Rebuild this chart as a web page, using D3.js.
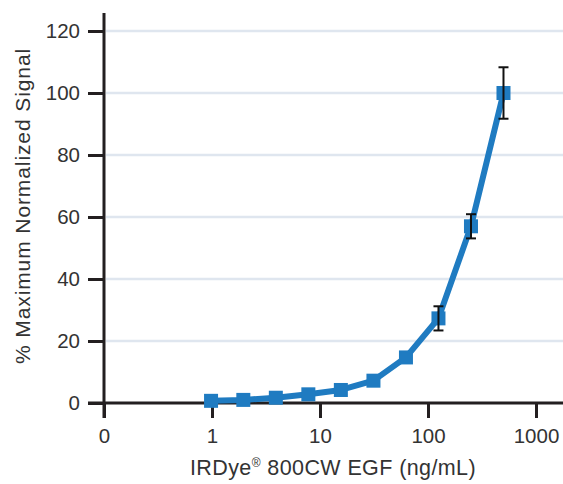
<!DOCTYPE html>
<html><head><meta charset="utf-8">
<script src="https://cdn.jsdelivr.net/npm/d3@7"></script>
<style>
html,body{margin:0;padding:0;background:#fff;}
text{font-family:"Liberation Sans",Arial,sans-serif;fill:#333;}
</style></head>
<body><svg id="c" width="563" height="484"></svg>
<script>
const concentrations = [0.98, 1.95, 3.9, 7.8, 15.6, 31.25, 62.5, 125, 250, 500];
const signal = [0.7, 1.0, 1.7, 2.8, 4.2, 7.2, 14.7, 27.3, 57.0, 100];
const errors = [0, 0, 0, 0, 0, 0, 0, 3.9, 3.9, 8.3];
const xTicks = [0.1, 1, 10, 100, 1000];
const xTickLabels = ["0", "1", "10", "100", "1000"];
const yTicks = [0, 20, 40, 60, 80, 100, 120];

const svg = d3.select("#c");
const x = d3.scaleLog().domain([0.1, 1000]).range([104, 536]);
const y = d3.scaleLinear().domain([0, 120]).range([403, 31]);

// gridlines
svg.append("g").selectAll("line").data(yTicks.filter(d => d > 0)).join("line")
  .attr("x1", 106).attr("x2", 563)
  .attr("y1", d => y(d)).attr("y2", d => y(d))
  .attr("stroke", "#dfe6ef").attr("stroke-width", 2.5);

// y axis
const yAxis = svg.append("g").attr("transform", "translate(104,0)")
  .call(d3.axisLeft(y).tickValues(yTicks).tickSize(16).tickPadding(8));
yAxis.select(".domain").remove();
yAxis.selectAll(".tick line").attr("stroke", "#231f20").attr("stroke-width", 3);
yAxis.selectAll(".tick text").attr("font-size", 20.5).attr("fill", "#333")
  .attr("font-family", "Liberation Sans, Arial, sans-serif");

// x axis
const xAxis = svg.append("g").attr("transform", "translate(0,403)")
  .call(d3.axisBottom(x).tickValues(xTicks).tickFormat((d, i) => xTickLabels[i]).tickSize(15).tickPadding(10));
xAxis.select(".domain").remove();
xAxis.selectAll(".tick line").attr("stroke", "#231f20").attr("stroke-width", 3);
xAxis.selectAll(".tick text").attr("font-size", 20.5).attr("fill", "#333")
  .attr("font-family", "Liberation Sans, Arial, sans-serif");

// axis lines
svg.append("line").attr("x1", 88).attr("x2", 563).attr("y1", 403).attr("y2", 403)
  .attr("stroke", "#231f20").attr("stroke-width", 3);
svg.append("line").attr("x1", 104).attr("x2", 104).attr("y1", 13).attr("y2", 418)
  .attr("stroke", "#231f20").attr("stroke-width", 3);

// line
const data = concentrations.map((c, i) => ({c, v: signal[i], e: errors[i]}));
svg.append("path").datum(data)
  .attr("fill", "none").attr("stroke", "#1f7bc1").attr("stroke-width", 6)
  .attr("stroke-linejoin", "round")
  .attr("d", d3.line().x(d => x(d.c)).y(d => y(d.v)));

// markers
svg.append("g").selectAll("rect").data(data).join("rect")
  .attr("x", d => x(d.c) - 7).attr("y", d => y(d.v) - 7)
  .attr("width", 14).attr("height", 14).attr("fill", "#1f7bc1");

// error bars
const eb = svg.append("g").attr("stroke", "#111").attr("stroke-width", 2);
data.filter(d => d.e > 0).forEach(d => {
  const cx = x(d.c);
  eb.append("line").attr("x1", cx).attr("x2", cx).attr("y1", y(d.v + d.e)).attr("y2", y(d.v - d.e));
  eb.append("line").attr("x1", cx - 5).attr("x2", cx + 5).attr("y1", y(d.v + d.e)).attr("y2", y(d.v + d.e));
  eb.append("line").attr("x1", cx - 5).attr("x2", cx + 5).attr("y1", y(d.v - d.e)).attr("y2", y(d.v - d.e));
});

// titles
svg.append("text").attr("transform", "translate(30,206) rotate(-90)")
  .attr("text-anchor", "middle").attr("font-size", 21).attr("letter-spacing", 0.9)
  .text("% Maximum Normalized Signal");
const xt = svg.append("text").attr("x", 333).attr("y", 475).attr("text-anchor", "middle")
  .attr("font-size", 21.5).attr("letter-spacing", 0.4);
xt.append("tspan").text("IRDye");
xt.append("tspan").attr("font-size", 12).attr("dy", -8).text("®");
xt.append("tspan").attr("dy", 8).text(" 800CW EGF (ng/mL)");
</script></body></html>
